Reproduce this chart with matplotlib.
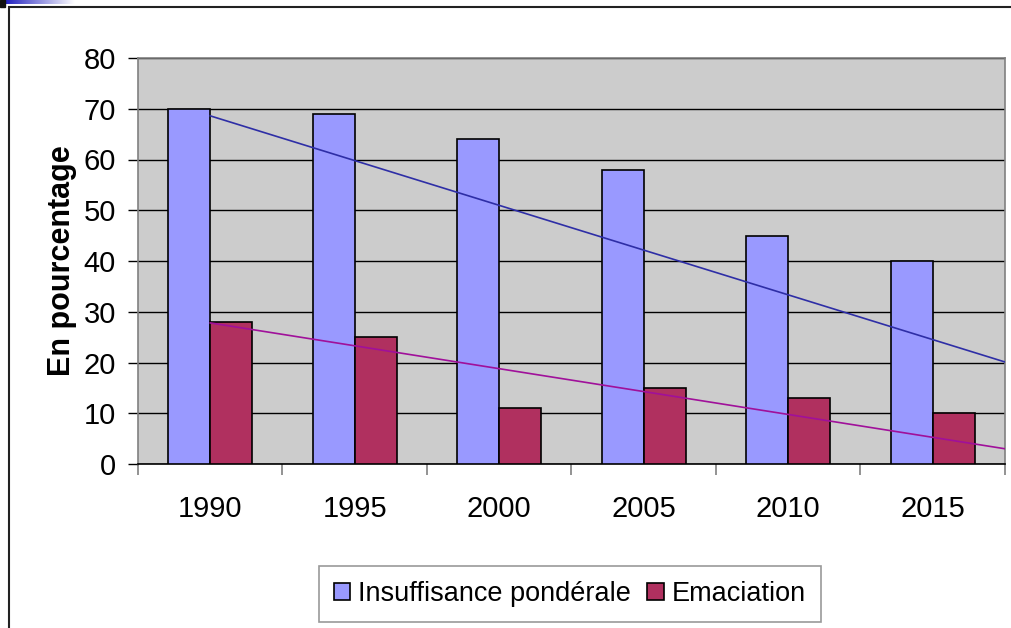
import numpy as np
from matplotlib import pyplot as plt
from matplotlib.patches import Rectangle

plt.rcParams['font.family'] = ['Liberation Sans', 'DejaVu Sans']

annees = ['1990', '1995', '2000', '2005', '2010', '2015']
insuffisance = [70, 69, 64, 58, 45, 40]
emaciation = [28, 25, 11, 15, 13, 10]
# lignes de tendance tracees a la main : valeur au debut (1990) et au bord droit
tendance_insuffisance = [68.6, 20.1]
tendance_emaciation = [27.8, 3.0]

fig = plt.figure(figsize=(10.12, 6.28), dpi=100)
ax = fig.add_axes([138 / 1012, 1 - 464 / 628, 867 / 1012, 406 / 628])

x = np.arange(len(annees))
w = 0.29
ax.bar(x - w / 2, insuffisance, w, color='#9999FF', edgecolor='black', linewidth=1.2,
       label='Insuffisance pondérale', zorder=3)
ax.bar(x + w / 2, emaciation, w, color='#B0305F', edgecolor='black', linewidth=1.2,
       label='Emaciation', zorder=3)

xt = [x[0], len(annees) - 0.5]
ax.plot(xt, tendance_insuffisance, color='#2E2EA6', linewidth=1.2, zorder=4)
ax.plot(xt, tendance_emaciation, color='#A0109A', linewidth=1.2, zorder=4)

ax.set_facecolor('#CCCCCC')
ax.set_xlim(-0.5, len(annees) - 0.5)
ax.set_ylim(0, 80)
ax.set_yticks(range(0, 81, 10))
ax.yaxis.grid(True, color='black', linewidth=1)
ax.set_axisbelow(True)

ax.set_xticks(np.arange(-0.5, len(annees), 1.0))
ax.set_xticklabels([])
ax.set_xticks(x, minor=True)
ax.set_xticklabels(annees, minor=True)
ax.tick_params(axis='x', which='major', length=8, color='#808080', width=1.2)
ax.tick_params(axis='x', which='minor', length=0, pad=22, labelsize=21)
ax.tick_params(axis='y', length=7, color='black', width=1, pad=9, labelsize=21)

for s in ['left', 'top', 'right']:
    ax.spines[s].set_color('#808080')
    ax.spines[s].set_linewidth(1.2)
ax.spines['bottom'].set_color('black')
ax.spines['bottom'].set_linewidth(1.2)

ax.set_ylabel('En pourcentage', fontsize=22, fontweight='bold')
ax.yaxis.set_label_coords(-0.07, 0.5)

leg = ax.legend(loc='center', bbox_to_anchor=(570 / 1012, 34 / 628),
                bbox_transform=fig.transFigure, ncol=2, fontsize=19.5,
                frameon=True, fancybox=False, edgecolor='#808080',
                handlelength=0.6, handleheight=0.6, handletextpad=0.3,
                columnspacing=0.6, borderpad=0.55)
leg.get_frame().set_linewidth(1.2)

# cadre exterieur et petit motif en haut a gauche
fig.patches.append(Rectangle((9 / 1012, -0.1), 1.2, 1 - 7 / 628 + 0.1,
                             transform=fig.transFigure, fill=False,
                             edgecolor='#222222', linewidth=1.5))
fig.patches.append(Rectangle((0, 1 - 7 / 628), 5 / 1012, 7 / 628,
                             transform=fig.transFigure, color='#111111'))
grad = np.linspace(0, 1, 100).reshape(1, -1)
gax = fig.add_axes([5 / 1012, 1 - 4 / 628, 70 / 1012, 4 / 628])
gax.imshow(grad, aspect='auto', cmap=plt.matplotlib.colors.LinearSegmentedColormap.from_list(
    'g', ['#2020C0', '#FFFFFF']))
gax.axis('off')

fig.savefig('out.png', dpi=100)
